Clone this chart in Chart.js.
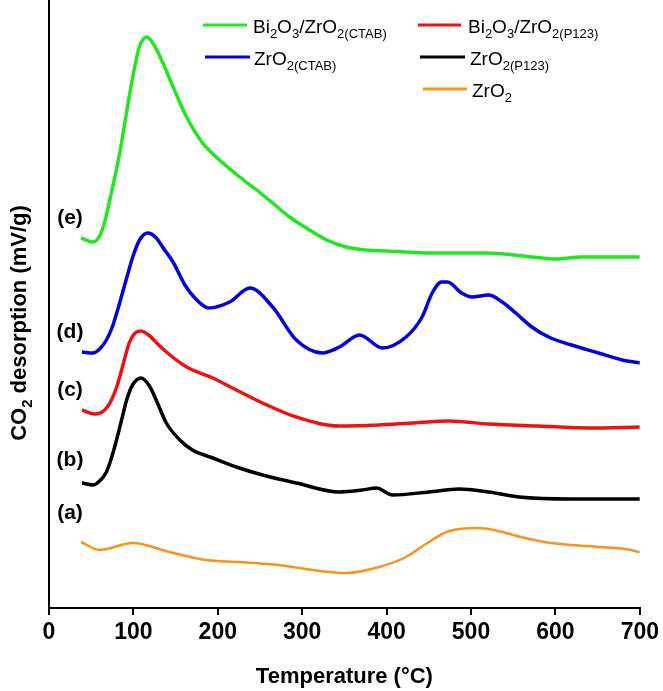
<!DOCTYPE html>
<html><head><meta charset="utf-8">
<script src="https://cdn.jsdelivr.net/npm/chart.js@4/dist/chart.umd.min.js"></script>
<style>html,body{margin:0;padding:0;background:#fff;}#wrap{width:663px;height:691px;position:relative;}</style>
</head><body><div id="wrap"><canvas id="c" width="663" height="691"></canvas></div>
<script>
// Temperature (°C) and CO2 desorption signal (arbitrary offset units)
const xTickValues = [0,100,200,300,400,500,600,700];
const tempE = [38,52,60,66,72,78,84,90,96,102,107,116,123,135,147,163,182,202,226,246,265,285,305,329,352,376,400,454,518,572,600,631,700];
const valE  = [371,367,373,387,409,432,457,487,517,544,562,572,566,546,522,492,466,449,432,419,406,392,381,369,362,359,358,356,356,352,350,352,352];
const tempD = [39,52,60,68,75,83,92,100,108,117,126,137,147,161,175,189,214,238,265,293,324,344,368,395,423,442,454,465,472,489,501,521,537,553,572,592,619,651,679,700];
const valD  = [257,256,260,269,282,304,331,354,370,376,372,359,347,324,309,301,307,321,302,269,256,262,274,261,272,292,316,327,327,316,312,314,307,296,282,272,264,256,249,246];
const tempC = [39,54,66,74,81,87,95,102,109,118,130,139,163,194,222,253,293,344,391,430,474,521,580,639,700];
const valC  = [199,195,199,209,224,242,266,276,278,274,264,257,242,231,219,206,192,183,184,186,188,185,183,181,182];
const tempB = [39,52,60,68,74,80,86,92,99,109,119,127,139,155,170,194,222,253,293,344,371,388,407,450,486,521,557,619,700];
const valB  = [126,124,128,137,151,169,189,209,224,231,223,209,186,169,159,151,142,134,126,117,119,121,114,117,120,117,112,110,110];
const tempA = [38,60,99,143,186,225,272,312,352,391,423,450,474,509,532,559,587,619,651,683,700];
const valA  = [67,59,66,57,49,47,44,39,36,42,52,67,78,81,78,72,67,64,62,60,57];

const seriesNames = ['Bi2O3/ZrO2(CTAB)','Bi2O3/ZrO2(P123)','ZrO2(CTAB)','ZrO2(P123)','ZrO2'];
const curveLabels = ['(e)','(d)','(c)','(b)','(a)'];

const pts = (t,v)=>t.map((x,i)=>({x:x,y:v[i]}));
const COL = {green:'#22e622', red:'#ee1111', blue:'#0000dd', black:'#000000', orange:'#f7931e'};

const FONT = '"Liberation Sans", Arial, sans-serif';

function drawRich(ctx, x, y, parts, size, subSize, bold){
  const w = bold ? 'bold ' : '';
  let cx = x;
  const base = y + size*0.716/2;
  for (const [txt, sub] of parts){
    ctx.font = w + (sub?subSize:size) + 'px ' + FONT;
    ctx.fillText(txt, cx, sub ? base + size*0.26 : base);
    cx += ctx.measureText(txt).width;
  }
  return cx - x;
}
function richWidth(ctx, parts, size, subSize, bold){
  const w = bold ? 'bold ' : '';
  let s = 0;
  for (const [txt, sub] of parts){ ctx.font = w + (sub?subSize:size) + 'px ' + FONT; s += ctx.measureText(txt).width; }
  return s;
}

const legendParts = [
  [['Bi',0],['2',1],['O',0],['3',1],['/ZrO',0],['2(CTAB)',1]],
  [['Bi',0],['2',1],['O',0],['3',1],['/ZrO',0],['2(P123)',1]],
  [['ZrO',0],['2(CTAB)',1]],
  [['ZrO',0],['2(P123)',1]],
  [['ZrO',0],['2',1]]
];
const legendLayout = [
  {x1:203,x2:247,y:25,tx:253,c:COL.green},
  {x1:418,x2:461,y:25,tx:468,c:COL.red},
  {x1:205,x2:250,y:57,tx:254,c:COL.blue},
  {x1:420,x2:465,y:57,tx:470,c:COL.black},
  {x1:423,x2:467,y:89,tx:472,c:COL.orange}
];
const labelPos = [[70,218],[70,332],[70,390],[70,460],[70,513]];

const overlay = {
  id:'overlay',
  afterDraw(chart){
    const ctx = chart.ctx;
    ctx.save();
    ctx.fillStyle = '#000';
    ctx.textAlign = 'left';
    ctx.textBaseline = 'alphabetic';
    legendLayout.forEach((L,i)=>{
      ctx.strokeStyle = L.c; ctx.lineWidth = 3;
      ctx.beginPath(); ctx.moveTo(L.x1,L.y); ctx.lineTo(L.x2,L.y); ctx.stroke();
      ctx.fillStyle = '#000';
      drawRich(ctx, L.tx, L.y+1, legendParts[i], 19, 13, false);
    });
    ctx.font = 'bold 21px ' + FONT;
    ctx.textAlign = 'center'; ctx.textBaseline = 'middle';
    curveLabels.forEach((s,i)=>ctx.fillText(s, labelPos[i][0], labelPos[i][1]));
    ctx.textAlign = 'left'; ctx.textBaseline = 'alphabetic';
    const yt = [['CO',0],['2',1],[' desorption (mV/g)',0]];
    const w = richWidth(ctx, yt, 22, 15, true);
    ctx.translate(18, 323);
    ctx.rotate(-Math.PI/2);
    drawRich(ctx, -w/2, 0, yt, 22, 15, true);
    ctx.restore();
  }
};

const mk = (label, t, v, color, bw) => ({
  label, data: pts(t,v), borderColor: color, backgroundColor: color,
  borderWidth: bw, pointRadius: 0, fill:false, cubicInterpolationMode:'monotone'
});

new Chart(document.getElementById('c'), {
  type:'line',
  data:{ datasets:[
    mk(seriesNames[4], tempA, valA, COL.orange, 2.5),
    mk(seriesNames[3], tempB, valB, COL.black, 3.5),
    mk(seriesNames[1], tempC, valC, COL.red, 3.5),
    mk(seriesNames[2], tempD, valD, COL.blue, 3.5),
    mk(seriesNames[0], tempE, valE, COL.green, 3.5)
  ]},
  options:{
    responsive:false, animation:false, devicePixelRatio:1,
    layout:{padding:{left:0,right:22,top:0,bottom:0}},
    plugins:{legend:{display:false}, tooltip:{enabled:false}},
    scales:{
      x:{ type:'linear', min:0, max:700,
          afterBuildTicks(s){ s.ticks = xTickValues.map(v=>({value:v})); },
          afterFit(s){ s.height = 83; },
          ticks:{ color:'#000', font:{family:FONT, size:23, weight:'bold'}, padding:4, maxRotation:0 },
          grid:{ drawOnChartArea:false, drawTicks:true, tickLength:7, color:'#000', lineWidth:2 },
          border:{ display:true, color:'#000', width:2 },
          title:{ display:true, text:'Temperature (°C)', color:'#000', font:{family:FONT, size:22, weight:'bold'}, padding:{top:0,bottom:1} }
      },
      y:{ min:1, max:609,
          afterFit(s){ s.width = 49; },
          ticks:{ display:false },
          grid:{ drawOnChartArea:false, drawTicks:false },
          border:{ display:true, color:'#000', width:2 }
      }
    }
  },
  plugins:[overlay]
});
</script></body></html>
